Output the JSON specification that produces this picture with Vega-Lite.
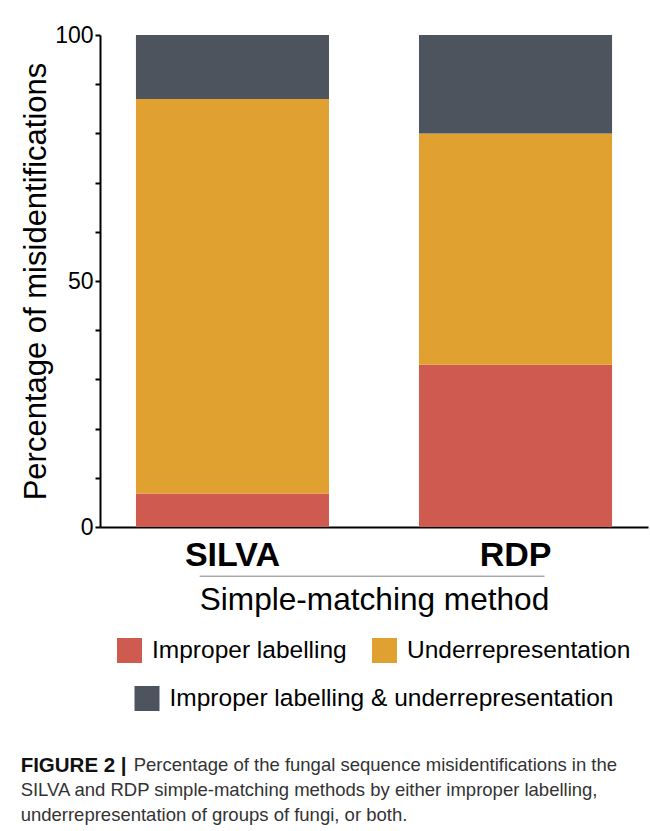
{
  "$schema": "https://vega.github.io/schema/vega-lite/v6.json",
  "width": 548,
  "height": 492,
  "padding": {"left": 20, "top": 24, "right": 4, "bottom": 4},
  "background": "white",
  "config": {
    "view": {"stroke": null},
    "font": "Liberation Sans",
    "legend": {"layout": {"bottom": {"anchor": "middle", "direction": "vertical", "center": true}}}
  },
  "title": {
    "text": "FIGURE 2 |",
    "subtitle": [
      "\u200b\u00a0\u00a0\u00a0\u00a0\u00a0\u00a0\u00a0\u00a0\u00a0\u00a0\u00a0\u00a0\u00a0\u00a0\u00a0\u00a0\u00a0\u00a0\u00a0\u00a0\u00a0\u00a0Percentage of the fungal sequence misidentifications in the",
      "SILVA and RDP simple-matching methods by either improper labelling,",
      "underrepresentation of groups of fungi, or both."
    ],
    "orient": "bottom",
    "anchor": "start",
    "frame": "bounds",
    "font": "Liberation Sans",
    "fontSize": 20.5,
    "fontWeight": "bold",
    "color": "#111111",
    "subtitleFont": "Liberation Sans",
    "subtitleFontSize": 18.5,
    "subtitleColor": "#333333",
    "subtitleLineHeight": 25,
    "subtitlePadding": -21,
    "offset": 40
  },
  "data": {
    "values": [
      {"method": "SILVA", "category": "Improper labelling", "rank": 1, "value": 6.8},
      {"method": "SILVA", "category": "Underrepresentation", "rank": 2, "value": 80.2},
      {"method": "SILVA", "category": "Improper labelling & underrepresentation", "rank": 3, "value": 13},
      {"method": "RDP", "category": "Improper labelling", "rank": 1, "value": 33},
      {"method": "RDP", "category": "Underrepresentation", "rank": 2, "value": 47},
      {"method": "RDP", "category": "Improper labelling & underrepresentation", "rank": 3, "value": 20}
    ]
  },
  "transform": [
    {"stack": "value", "groupby": ["method"], "sort": [{"field": "rank", "order": "ascending"}], "as": ["y0", "y1"]}
  ],
  "layer": [
    {
      "transform": [{"filter": "datum.rank <= 2"}],
      "mark": {"type": "bar"},
      "encoding": {
        "x": {
          "field": "method",
          "type": "nominal",
          "sort": ["SILVA", "RDP"],
          "scale": {"paddingInner": 0.318, "paddingOuter": 0.127},
          "title": "Simple-matching method",
          "axis": {
            "labelAngle": 0,
            "labelFontSize": 34,
            "labelFontWeight": "bold",
            "labelColor": "black",
            "labelPadding": 11,
            "ticks": false,
            "domainColor": "black",
            "domainWidth": 2,
            "titleFontSize": 31.6,
            "titleFontWeight": "normal",
            "titleColor": "black",
            "titlePadding": 12
          }
        },
        "y": {
          "field": "y1",
          "type": "quantitative",
          "scale": {"domain": [0, 100]},
          "title": "Percentage of misidentifications",
          "axis": {
            "values": [0, 10, 20, 30, 40, 50, 60, 70, 80, 90, 100],
            "labelExpr": "datum.value % 50 == 0 ? datum.label : ''",
            "grid": false,
            "labelFontSize": 23,
            "labelColor": "black",
            "labelPadding": 2,
            "tickSize": 5,
            "tickWidth": 2,
            "tickColor": "black",
            "domainColor": "black",
            "domainWidth": 2,
            "titleFontSize": 31,
            "titleFontWeight": "normal",
            "titleColor": "black",
            "titlePadding": 2
          }
        },
        "y2": {"field": "y0"},
        "color": {
          "field": "category",
          "type": "nominal",
          "scale": {
            "domain": ["Improper labelling", "Underrepresentation"],
            "range": ["#CF5A50", "#E1A131"]
          },
          "legend": {
            "title": null,
            "orient": "bottom",
            "direction": "horizontal",
            "symbolType": "square",
            "symbolSize": 625,
            "symbolStrokeWidth": 0,
            "symbolOpacity": 1,
            "labelFontSize": 24.5,
            "labelColor": "black",
            "labelOffset": 10,
            "labelLimit": 600,
            "columnPadding": 25,
            "padding": 10,
            "offset": 12
          }
        }
      }
    },
    {
      "transform": [{"filter": "datum.rank == 3"}],
      "mark": {"type": "bar"},
      "encoding": {
        "x": {"field": "method", "type": "nominal", "sort": ["SILVA", "RDP"]},
        "y": {"field": "y1", "type": "quantitative"},
        "y2": {"field": "y0"},
        "fill": {
          "field": "category",
          "type": "nominal",
          "scale": {
            "domain": ["Improper labelling & underrepresentation"],
            "range": ["#4E545E"]
          },
          "legend": {
            "title": null,
            "orient": "bottom",
            "direction": "horizontal",
            "symbolType": "square",
            "symbolSize": 625,
            "symbolStrokeWidth": 0,
            "symbolOpacity": 1,
            "labelFontSize": 24.5,
            "labelColor": "black",
            "labelOffset": 10,
            "labelLimit": 600,
            "padding": 5,
            "offset": 12
          }
        }
      }
    },
    {
      "data": {"values": [{"line": "separator"}]},
      "mark": {"type": "rule", "color": "#808080", "strokeWidth": 1},
      "encoding": {
        "x": {"datum": "SILVA", "bandPosition": 0.33},
        "x2": {"datum": "RDP", "bandPosition": 0.65},
        "y": {"datum": -10}
      }
    }
  ]
}
